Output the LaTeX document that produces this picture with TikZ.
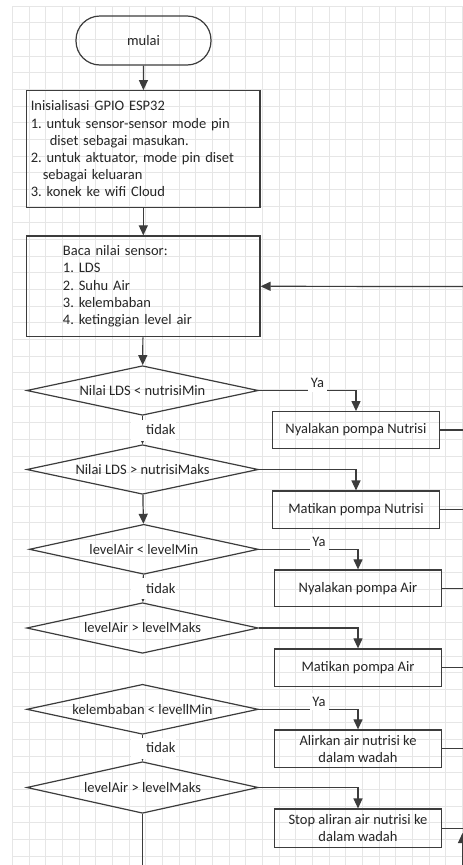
\documentclass[tikz,border=0pt]{standalone}
\usepackage{fontspec}
\setmainfont{Carlito}
\usetikzlibrary{arrows.meta,shapes.geometric}
\definecolor{gridc}{HTML}{E6E6E6}
\definecolor{linec}{HTML}{3C3C3C}
\definecolor{textc}{HTML}{262626}
\frenchspacing
\begin{document}
\begin{tikzpicture}[x=1pt,y=-1pt,
  every node/.style={font=\fontsize{14.5}{17.2}\selectfont, text=textc},
  term/.style={draw=linec, line width=1.2pt, rounded corners=24pt, minimum width=135pt, minimum height=49pt, inner sep=0pt},
  bigbox/.style={draw=linec, line width=1.2pt, minimum width=233.3pt, inner sep=0pt, align=left},
  dec/.style={diamond, draw=linec, line width=1.2pt, minimum width=231.6pt, minimum height=49.6pt, shape aspect=4.67, inner sep=0pt},
  actbox/.style={draw=linec, line width=1.2pt, minimum width=166.8pt, minimum height=37pt, inner sep=0pt, align=center},
  flow/.style={draw=linec, line width=1.2pt, -{Triangle[length=10pt,width=9pt]}},
  plain/.style={draw=linec, line width=1.2pt},
  lab/.style={fill=white, inner sep=1.5pt},
  nolab/.style={fill=white, inner ysep=2pt, inner xsep=1pt, minimum height=21pt, minimum width=42pt, anchor=west}
]
\useasboundingbox (0,0) rectangle (463,865);
\fill[white] (0,0) rectangle (463,865);
% grid
\foreach \k in {0,...,27} \draw[gridc, line width=0.7pt] (12.5+16.667*\k, 6) -- (12.5+16.667*\k, 865);
\foreach \k in {0,...,51} \draw[gridc, line width=0.7pt] (12.5, 6+16.667*\k) -- (463, 6+16.667*\k);

% main column
\node[term] (mulai) at (143.5,40.5) {mulai};
\node[bigbox, minimum height=116.6pt, text width=225pt, inner xsep=4.2pt] (init) at (143.3,149)
  {Inisialisasi GPIO ESP32\\
   1. untuk sensor-sensor mode pin\\
   \hspace*{19pt}diset sebagai masukan.\\
   2. untuk aktuator, mode pin diset\\
   \hspace*{12pt}sebagai keluaran\\
   3. konek ke wifi Cloud};
\node[bigbox, minimum height=100.7pt, text width=160.7pt, inner xsep=36.3pt] (baca) at (143.3,286.3)
  {Baca nilai sensor:\\
   1. LDS\\
   2. Suhu Air\\
   3. kelembaban\\
   4. ketinggian level air};
\node[dec] (d1) at (142.5,390.5) {Nilai LDS < nutrisiMin};
\node[dec] (d2) at (142.5,469.5) {Nilai LDS > nutrisiMaks};
\node[dec, minimum width=229pt, minimum height=50pt] (d3) at (143.8,549.3) {levelAir < levelMin};
\node[dec, minimum height=50.6pt] (d4) at (142.5,628) {levelAir > levelMaks};
\node[dec, minimum height=50pt] (d5) at (142.5,709.3) {kelembaban < levellMin};
\node[dec, minimum height=51.6pt] (d6) at (142.5,787.5) {levelAir > levelMaks};

% action boxes
\node[actbox, minimum width=166.6pt, minimum height=36.6pt] (b1) at (356,430) {Nyalakan pompa Nutrisi};
\node[actbox, minimum width=166.6pt, minimum height=37.3pt] (b2) at (356,509.7) {Matikan pompa Nutrisi};
\node[actbox, minimum width=167.4pt, minimum height=36.7pt] (b3) at (358,588.3) {Nyalakan pompa Air};
\node[actbox, minimum width=167.4pt, minimum height=37.7pt] (b4) at (358,667.8) {Matikan pompa Air};
\node[actbox, minimum width=167.4pt, minimum height=37.7pt] (b5) at (358,748.8) {Alirkan air nutrisi ke\\dalam wadah};
\node[actbox, minimum width=167.4pt, minimum height=38.3pt] (b6) at (358,828.2) {Stop aliran air nutrisi ke\\dalam wadah};

% edge coordinates
\coordinate (r0) at (463,286.5);
\coordinate (r1) at (463,430);
\coordinate (r2) at (463,509.7);
\coordinate (r3) at (463,588.3);
\coordinate (r4) at (463,667.8);
\coordinate (r5) at (463,748.8);
\coordinate (r6) at (463,828.2);
\coordinate (loopb) at (462.5,865);
\coordinate (loopt) at (462.5,833);
\coordinate (bot) at (142.5,865);

% main flow
\draw[flow] (mulai) -- (init);
\draw[flow] (init) -- (baca);
\draw[flow] (baca) -- (d1);
\draw[flow] (d1) -- (d2);
\draw[flow] (d2) -- (d3);
\draw[flow] (d3) -- (d4);
\draw[flow] (d5) -- (d6);
\draw[plain] (d6.south) -- (bot);

% tidak labels
\node[nolab] (t1) at (131,430) {\hspace*{14pt}tidak};
\node[nolab] (t2) at (131,588.5) {\hspace*{14pt}tidak};
\node[nolab] (t3) at (131,748) {\hspace*{14pt}tidak};

% yes branches
\draw[flow] (d1.east) -| (b1.north);
\draw[flow] (d2.east) -| (b2.north);
\draw[flow] (d3.east) -| (b3.north);
\draw[flow] (d4.east) -| (b4.north);
\draw[flow] (d5.east) -| (b5.north);
\draw[flow] (d6.east) -| (b6.north);
\node[lab, minimum width=19pt, minimum height=17pt] (y1) at (317.5,383) {Ya};
\node[lab, minimum width=19pt, minimum height=17pt] (y3) at (319,541.5) {Ya};
\node[lab, minimum width=19pt, minimum height=17pt] (y5) at (319,701.7) {Ya};

% outputs to the loop line
\draw[plain] (b1.east) -- (r1);
\draw[plain] (b2.east) -- (r2);
\draw[plain] (b3.east) -- (r3);
\draw[plain] (b4.east) -- (r4);
\draw[plain] (b5.east) -- (r5);
\draw[plain] (b6.east) -- (r6);
\draw[flow] (loopb) -- (loopt);
\draw[flow] (r0) -- (baca.east);
\end{tikzpicture}
\end{document}
